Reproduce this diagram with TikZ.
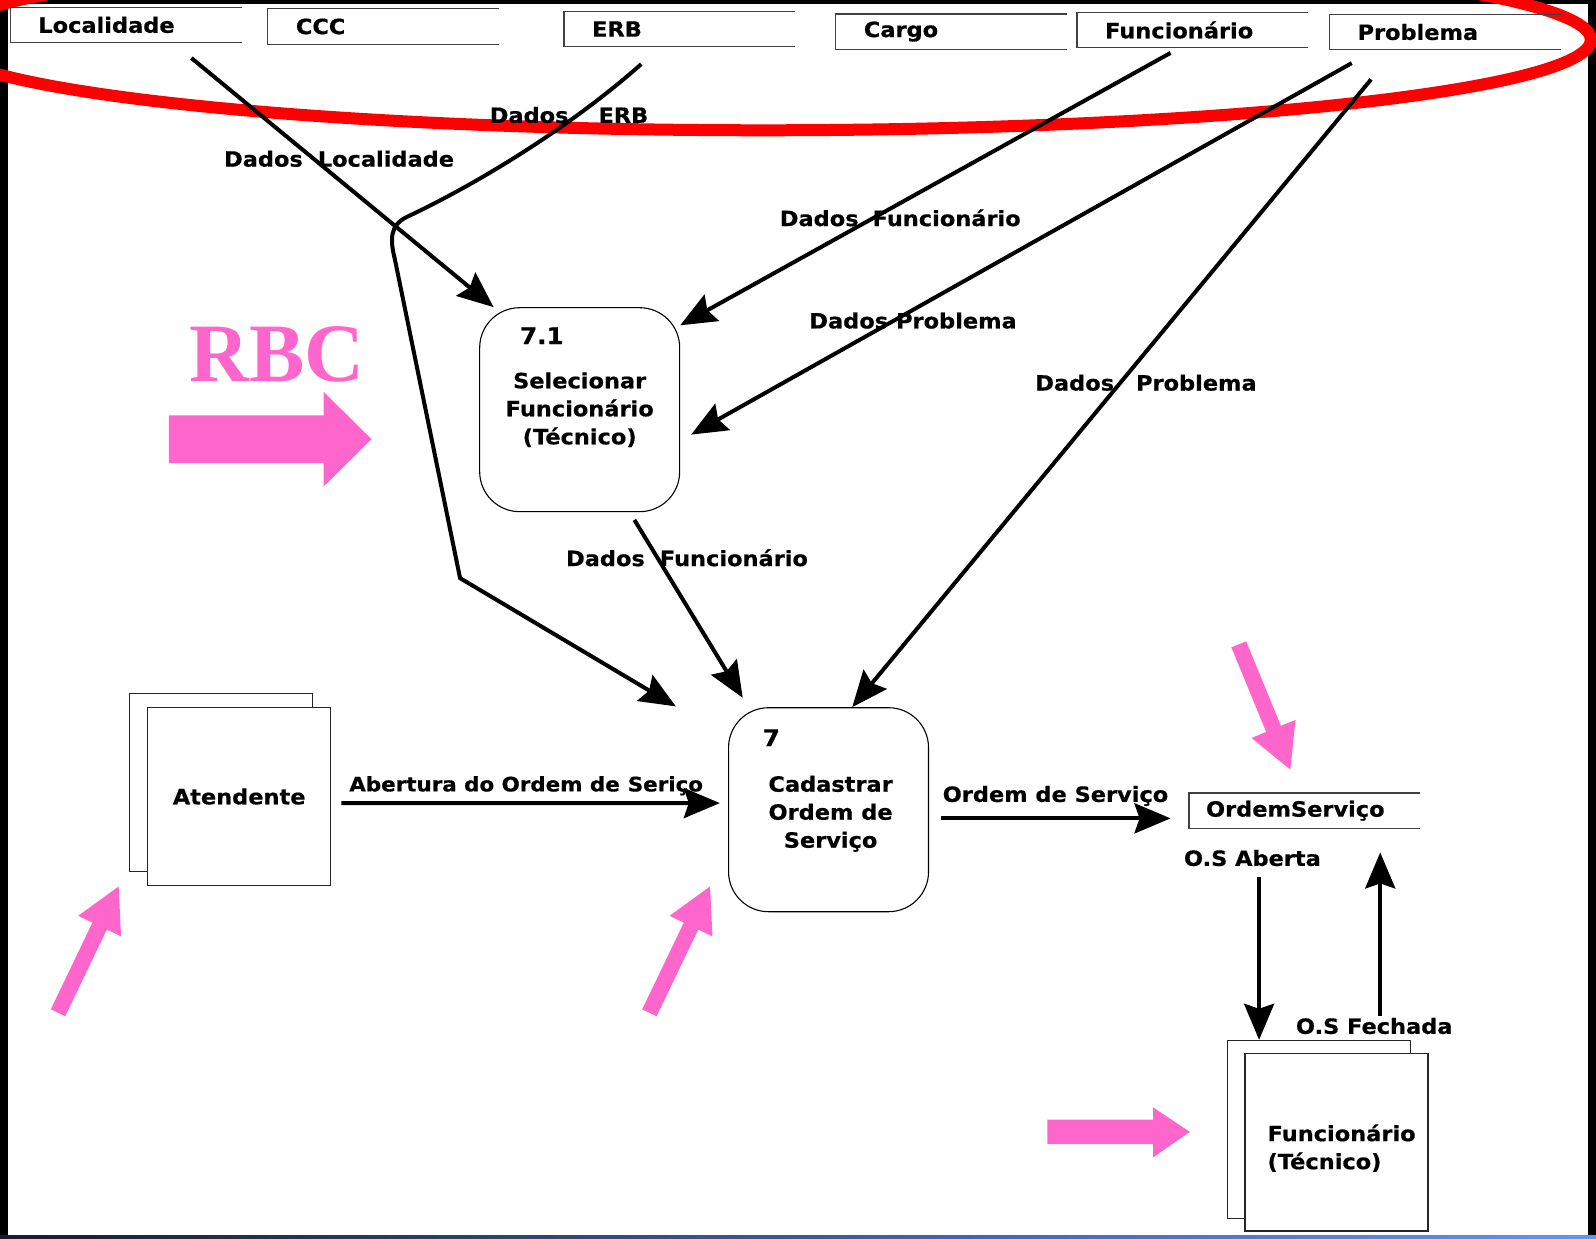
\documentclass[tikz,border=0pt]{standalone}
\usepackage{fontspec}
\setmainfont{DejaVu Sans}[BoldFeatures={FakeBold=0.6,FakeStretch=1.07}]
\newfontfamily\rbcfont{Liberation Serif}
\usetikzlibrary{arrows.meta,positioning}
\definecolor{rbcpink}{RGB}{255,102,204}
\definecolor{edgeblue}{RGB}{100,149,237}
\definecolor{edgenavy}{RGB}{20,30,50}

\begin{document}
\begin{tikzpicture}[x=1.0179pt,y=-1.0179pt,
				every node/.style={
					font=\bfseries\fontsize{21}{28}\selectfont,
					text=black
				},
				store/.style={
					anchor=west,
					minimum height=35pt,
					inner xsep=28pt,
					text width=175pt,
					align=left
				},
				proc/.style={
					draw,
					rounded corners=40pt,
					line width=1.1pt,
					minimum width=200pt,
					minimum height=204pt,
					align=center
				},
				ent/.style={
					draw=black!85,
					fill=white,
					line width=1.1pt,
					minimum width=183pt,
					minimum height=178pt
				},
				num/.style={
					anchor=west,
					inner sep=0pt,
					font=\bfseries\fontsize{23}{23}\selectfont
				},
				lbl/.style={anchor=west, inner sep=0pt},
				flow/.style={
					line width=4pt,
					-{Stealth[length=36pt,width=30pt,inset=5pt]}
				},
				hint/.style={
					rbcpink,
					line width=16pt,
					-{Triangle[length=45pt,width=44pt]}
				}
			]
			\useasboundingbox (0,0) rectangle (1568,1217);
			% frame
			\fill[black] (0,0) rectangle (8,1217);
			\fill[black] (0,0) rectangle (1568,4);
			\fill[black] (1560,0) rectangle (1568,1214);
			\shade[left color=edgenavy, right color=edgeblue] (0,1214) rectangle (1568,1217);
			
			\begin{scope}
				\clip (0,0) rectangle (1568,1217);
				\draw[red, line width=12pt] (750,39) ellipse [x radius=813, y radius=89];
			\end{scope}
			
			% data stores
			\node[store] (sLoc) at (10,24.5) {Localidade};
			\node[store] (sCCC) at (263,26) {CCC};
			\node[store] (sERB) at (554,28.5) {ERB};
			\node[store] (sCargo) at (821,31) {Cargo};
			\node[store] (sFunc) at (1058,29.5) {Funcionário};
			\node[store] (sProb) at (1306,31.5) {Problema};
			\node[store, inner xsep=17pt, text width=197pt] (sOS) at (1168,796.5) {OrdemServiço};
			\foreach \s in {sLoc,sCCC,sERB,sCargo,sFunc,sProb,sOS}
			\draw[black!75, line width=1.3pt] (\s.north east) -- (\s.north west) -- (\s.south west) -- (\s.south east);
			
			% processes
			\node[proc] (p71) at (569.5,402.5) {Selecionar\\Funcionário\\(Técnico)};
			\node[num] (n71) at ([shift={(40,28)}]p71.north west) {7.1};
			\node[proc] (p7) at (814,795.5) {};
			\node[align=center] (t7) at ([shift={(2,4)}]p7.center) {Cadastrar\\Ordem de\\Serviço};
			\node[num] (n7) at ([shift={(34,30)}]p7.north west) {7};
			
			% external entities
			\node[ent] (ateB) at (217.5,769) {};
			\node[ent] (ate) at (235,782.5) {Atendente};
			\node[ent] (fncB) at (1296,1109.5) {};
			\node[ent] (fnc) at (1313,1122) {};
			\node[align=left] (tFnc) at ([shift={(5,6)}]fnc.center) {Funcionário\\(Técnico)};
			
			% flows
			\coordinate (locOut) at (188,57);
			\coordinate (erbOut) at (630,63);
			\coordinate (erbIn) at (664,694);
			\coordinate (funcOut) at (1150,52);
			\coordinate (probOut) at (1328,62);
			\coordinate (probIn) at (679,427);
			\coordinate (probOut2) at (1347,78);
			\coordinate (osOut) at (1237,862);
			\coordinate (fchOut) at (1356,998);
			
			\draw[flow] (locOut) -- (p71.130);
			\draw[flow] (erbOut) .. controls (560,125) and (470,180) .. (400,213)
			.. controls (383,221) and (383,235) .. (388,255) -- (452,568) -- (erbIn);
			\draw[flow] (funcOut) -- (p71.40);
			\draw[flow] (probOut) -- (probIn);
			\draw[flow] (probOut2) -- (p7.77);
			\draw[flow, shorten <=9pt, shorten >=11pt] (p71.-64) -- (p7.128);
			\draw[flow] ([shift={(10,6.5)}]ate.east) -- ([shift={(-8,-6.5)}]p7.west);
			\draw[flow] ([shift={(12,8.5)}]p7.east) -- ([shift={(-18,7.5)}]sOS.west);
			\draw[flow] (osOut) -- (osOut |- fncB.north);
			\draw[flow, shorten >=24pt] (fchOut) -- (fchOut |- sOS.south);
			
			\node[lbl] (lLoc) at (220,156) {Dados\hspace{15pt}Localidade};
			\node[lbl] (lERB) at (481,113) {Dados\hspace{30pt}ERB};
			\node[lbl] (lFunc) at (766,214) {Dados\hspace{14pt}Funcionário};
			\node[lbl] (lProb) at (795,315) {Dados\hspace{8pt}Problema};
			\node[lbl] (lProb2) at (1017,376) {Dados\hspace{22pt}Problema};
			\node[lbl] (lFunc2) at (556,548) {Dados\hspace{15pt}Funcionário};
			\node[lbl, font=\bfseries\fontsize{20}{20}\selectfont] (lAbr) at (343,772) {Abertura do Ordem de\hspace{8pt}Seriço};
			\node[lbl] (lOS) at (926,782) {Ordem de Serviço};
			\node[lbl] (lAb) at (1163,843) {O.S Aberta};
			\node[lbl] (lFch) at (1273,1008) {O.S Fechada};
			
			% RBC marks
			\node[font=\rbcfont\bfseries\fontsize{83}{83}\selectfont, text=rbcpink, inner sep=0pt] (rbc) at (272,348) {RBC};
			\fill[rbcpink] (166,408) -- (318,408) -- (318,385) -- (365,431.5) -- (318,478) -- (318,455) -- (166,455) -- cycle;
			\fill[rbcpink] (1029,1100) -- (1133,1100) -- (1133,1088) -- (1169,1112) -- (1133,1137) -- (1133,1124) -- (1029,1124) -- cycle;
			\draw[hint] (57,995) -- (117,870);
			\draw[hint] (638,995) -- (698,870);
			\draw[hint] (1217,633) -- (1268,757);
		\end{tikzpicture}
\end{document}
